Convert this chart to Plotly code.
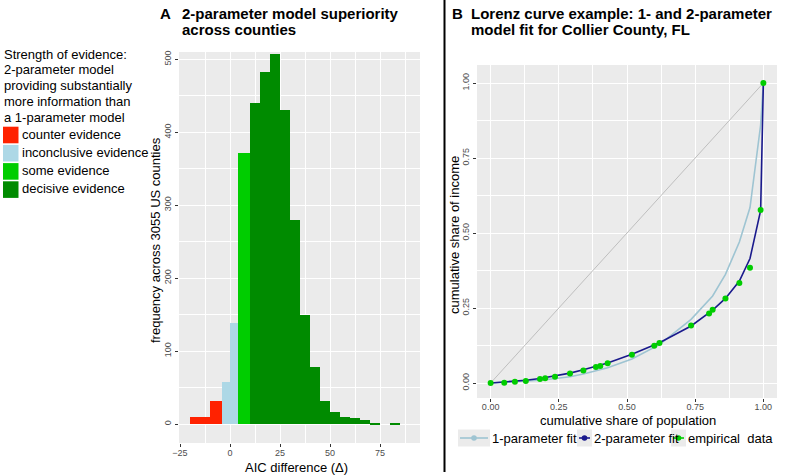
import plotly.graph_objects as go

# ---------------- Panel A data: histogram of AIC differences ----------------
cat_names = ["counter evidence", "inconclusive evidence", "some evidence", "decisive evidence"]
cat_colors = ["#ff2200", "#add8e6", "#00cd00", "#008b00"]

bin_left = [-20, -15, -10, -4, 0, 4, 10, 15, 20, 25, 30, 35, 40, 45, 50, 55, 60, 65, 70, 80]
bin_right = [-15, -10, -4, 0, 4, 10, 15, 20, 25, 30, 35, 40, 45, 50, 55, 60, 65, 70, 75, 85]
bin_count = [9, 9, 32, 58, 138, 372, 440, 483, 507, 430, 280, 150, 78, 31, 16, 9, 8, 5, 2, 1]
bin_cat = [0, 0, 0, 1, 1, 2, 3, 3, 3, 3, 3, 3, 3, 3, 3, 3, 3, 3, 3, 3]

legend_a_title = ["Strength of evidence:", "2-parameter model", "providing substantially",
                  "more information than", "a 1-parameter model"]

# ---------------- Panel B data: Lorenz curve, Collier County FL ----------------
pop_share = [0, 0.05, 0.089, 0.129, 0.181, 0.2, 0.236, 0.291, 0.34, 0.386, 0.402, 0.429,
             0.518, 0.6, 0.619, 0.735, 0.801, 0.814, 0.861, 0.912, 0.951, 0.99, 1.0]
income_share = [0, 0.001, 0.004, 0.007, 0.013, 0.016, 0.021, 0.032, 0.042, 0.053, 0.057, 0.066,
                0.094, 0.124, 0.133, 0.192, 0.232, 0.244, 0.282, 0.333, 0.384, 0.577, 1.0]
fit_1param = [0, 0.002, 0.004, 0.006, 0.009, 0.011, 0.014, 0.021, 0.030, 0.040, 0.044, 0.051,
              0.080, 0.117, 0.128, 0.212, 0.275, 0.290, 0.362, 0.470, 0.585, 0.860, 1.0]
fit_2param = [0, 0.003, 0.006, 0.009, 0.015, 0.018, 0.023, 0.033, 0.044, 0.055, 0.060, 0.067,
              0.096, 0.126, 0.134, 0.190, 0.233, 0.243, 0.282, 0.340, 0.415, 0.575, 1.0]
equality_line = [0, 1]

series_names = ["1-parameter fit", "2-parameter fit", "empirical\u00a0\u00a0data"]
series_colors = ["#9ec4d2", "#1a1a8c", "#00cd00"]

FONT = "Liberation Sans, Arial, Helvetica, sans-serif"
PANEL_BG = "#ebebeb"
TICK_COL = "#4d4d4d"
W, H = 800, 475


def px_x(p):
    return p / W


def px_y(p):
    return 1 - p / H


fig = go.Figure()

# Panel A bars
for ci, name in enumerate(cat_names):
    idx = [i for i, c in enumerate(bin_cat) if c == ci]
    fig.add_trace(go.Bar(
        x=[(bin_left[i] + bin_right[i]) / 2 for i in idx],
        y=[bin_count[i] for i in idx],
        width=[bin_right[i] - bin_left[i] for i in idx],
        marker=dict(color=cat_colors[ci], line=dict(width=0)),
        name=name, xaxis="x", yaxis="y",
    ))

# Panel B lines and points
fig.add_trace(go.Scatter(x=equality_line, y=equality_line, mode="lines",
                         line=dict(color="#bebebe", width=1), xaxis="x2", yaxis="y2",
                         hoverinfo="skip"))
fig.add_trace(go.Scatter(x=pop_share, y=fit_1param, mode="lines", name=series_names[0],
                         line=dict(color=series_colors[0], width=1.6), xaxis="x2", yaxis="y2"))
fig.add_trace(go.Scatter(x=pop_share, y=fit_2param, mode="lines", name=series_names[1],
                         line=dict(color=series_colors[1], width=1.6), xaxis="x2", yaxis="y2"))
fig.add_trace(go.Scatter(x=pop_share, y=income_share, mode="markers", name=series_names[2],
                         marker=dict(color=series_colors[2], size=6), xaxis="x2", yaxis="y2"))

axis_common = dict(showgrid=True, gridcolor="white", gridwidth=1.1, zeroline=False,
                   ticks="outside", ticklen=3, tickcolor="#333333", tickwidth=1,
                   tickfont=dict(size=9, color=TICK_COL, family=FONT), showline=False,
                   automargin=False)
minor_common = dict(showgrid=True, gridcolor="white", gridwidth=0.5, ticks="")

shapes = [dict(type="line", xref="paper", yref="paper", x0=px_x(444.5), x1=px_x(444.5),
               y0=px_y(0), y1=px_y(472), line=dict(color="black", width=2))]
annotations = []


def text(t, x, y, size=13, bold=False, anchor="left", angle=0):
    annotations.append(dict(text=("<b>%s</b>" % t) if bold else t, x=px_x(x), y=px_y(y),
                            xref="paper", yref="paper", xanchor=anchor, yanchor="middle",
                            showarrow=False, textangle=angle, borderpad=0, borderwidth=0,
                            font=dict(size=size, color="black", family=FONT)))


# panel titles
text("A", 160, 13, 15, True)
text("2-parameter model superiority", 182, 13, 15, True)
text("across counties", 182, 30, 15, True)
text("B", 452, 13, 15, True)
text("Lorenz curve example: 1- and 2-parameter", 471, 13, 15, True)
text("model fit for Collier County, FL", 471, 30, 15, True)

# axis titles
text("AIC difference (Δ)", 296, 467, 13, anchor="center")
text("frequency across 3055 US counties", 155, 240, 13, anchor="center", angle=-90)
text("cumulative share of population", 628, 420, 13, anchor="center")
text("cumulative share of income", 454, 235, 13, anchor="center", angle=-90)

# Panel A legend (left)
for i, line in enumerate(legend_a_title):
    text(line, 4, 54 + 15.8 * i, 13)
for i, (name, col) in enumerate(zip(cat_names, cat_colors)):
    cy = 135 + 18.2 * i
    shapes.append(dict(type="rect", xref="paper", yref="paper", x0=px_x(3), x1=px_x(18.5),
                       y0=px_y(cy - 8.3), y1=px_y(cy + 8.3), fillcolor=col, line=dict(width=0)))
    text(name, 22, cy - 1, 13)

# Panel B legend (bottom)
key_boxes = [(458, 490), (577, 592), (671, 686)]
text_x = [492, 594, 688]
ky = 438
for (x0, x1), tx, name, col in zip(key_boxes, text_x, series_names, series_colors):
    shapes.append(dict(type="rect", xref="paper", yref="paper", x0=px_x(x0), x1=px_x(x1),
                       y0=px_y(ky - 8.5), y1=px_y(ky + 8.5), fillcolor="#ebebeb",
                       line=dict(width=0)))
    shapes.append(dict(type="line", xref="paper", yref="paper", x0=px_x(x0 + 2), x1=px_x(x1 - 2),
                       y0=px_y(ky), y1=px_y(ky), line=dict(color=col, width=1.6)))
    cx = (x0 + x1) / 2
    shapes.append(dict(type="circle", xref="paper", yref="paper", x0=px_x(cx - 2.8),
                       x1=px_x(cx + 2.8), y0=px_y(ky - 2.8), y1=px_y(ky + 2.8),
                       fillcolor=col, line=dict(width=0)))
    text(name, tx, ky, 13)

fig.update_layout(
    width=W, height=H, margin=dict(l=0, r=0, t=0, b=0, autoexpand=False),
    paper_bgcolor="white", plot_bgcolor=PANEL_BG,
    font=dict(family=FONT, color="black"),
    barmode="overlay", bargap=0, showlegend=False,
    xaxis=dict(domain=[px_x(179), px_x(420)], range=[-25.5, 95], anchor="y",
               tickvals=[-25, 0, 25, 50, 75], ticklabelstandoff=-2,
               minor=dict(tickvals=[-12.5, 12.5, 37.5, 62.5, 87.5], **minor_common),
               **axis_common),
    yaxis=dict(domain=[px_y(443), px_y(52)], range=[-26, 510], anchor="x",
               tickvals=[0, 100, 200, 300, 400, 500], tickangle=-90,
               minor=dict(tickvals=[50, 150, 250, 350, 450], **minor_common),
               **axis_common),
    xaxis2=dict(domain=[px_x(477), px_x(777)], range=[-0.05, 1.05], anchor="y2",
                tickvals=[0, 0.25, 0.5, 0.75, 1.0], ticktext=["0.00", "0.25", "0.50", "0.75", "1.00"],
                ticklabelstandoff=-3,
                minor=dict(tickvals=[0.125, 0.375, 0.625, 0.875], **minor_common),
                **axis_common),
    yaxis2=dict(domain=[px_y(398), px_y(65)], range=[-0.05, 1.06], anchor="x2",
                tickvals=[0, 0.25, 0.5, 0.75, 1.0], ticktext=["0.00", "0.25", "0.50", "0.75", "1.00"],
                tickangle=-90,
                minor=dict(tickvals=[0.125, 0.375, 0.625, 0.875], **minor_common),
                **axis_common),
    shapes=shapes,
    annotations=annotations,
)

fig.write_html("out.html", config={"displayModeBar": False},
               post_script="document.body.style.margin='0px';")
